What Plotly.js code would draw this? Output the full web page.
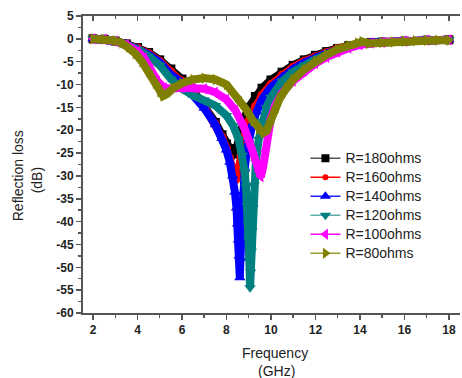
<!DOCTYPE html>
<html>
<head>
<meta charset="utf-8">
<script src="https://cdn.plot.ly/plotly-3.0.1.min.js"></script>
<style>
  html, body { margin: 0; padding: 0; background: #fff; }
  #chart { width: 462px; height: 378px; }
</style>
</head>
<body>
<div id="chart"></div>
<script>
// ---- Data ----
var seriesNames = ['R=180ohms', 'R=160ohms', 'R=140ohms', 'R=120ohms', 'R=100ohms', 'R=80ohms'];

var freq180 = [2,2.5,3,3.5,4,4.5,5,5.5,6,6.5,7,7.5,7.8,8.0,8.15,8.3,8.45,8.6,8.8,9.0,9.3,9.6,10,10.5,11,11.5,12,12.5,13,13.5,14,14.5,15,16,17,18];
var rl180   = [0,-0.1,-0.5,-1.1,-1.9,-3.0,-4.6,-6.6,-8.8,-11.3,-14.5,-18.3,-21.0,-23.0,-24.3,-25.2,-24.0,-21.0,-17.5,-15.0,-12.6,-10.8,-9.0,-7.3,-5.8,-4.6,-3.6,-2.8,-2.1,-1.5,-1.0,-0.8,-0.7,-0.5,-0.3,-0.2];

var freq160 = [2,2.5,3,3.5,4,4.5,5,5.5,6,6.5,7,7.5,7.8,8.0,8.15,8.3,8.42,8.52,8.65,8.8,9.0,9.3,9.6,10,10.5,11,11.5,12,12.5,13,13.5,14,14.5,15,16,17,18];
var rl160   = [0,-0.1,-0.5,-1.2,-2.0,-3.2,-4.9,-7.2,-9.2,-11.8,-14.8,-18.6,-21.6,-24.0,-26.2,-28.8,-30.8,-29.5,-25.5,-21.5,-18.0,-14.8,-12.3,-10.0,-7.9,-6.2,-4.9,-3.9,-3.0,-2.2,-1.6,-1.0,-0.8,-0.7,-0.5,-0.3,-0.2];

var freq140 = [2,2.5,3,3.5,4,4.5,5,5.5,6,6.5,7,7.5,7.8,8.0,8.15,8.28,8.38,8.45,8.5,8.54,8.57,8.6,8.63,8.66,8.7,8.75,8.82,8.9,9.0,9.15,9.35,9.6,10,10.5,11,11.5,12,12.5,13,13.5,14,14.5,15,16,17,18];
var rl140   = [0,-0.1,-0.5,-1.2,-2.1,-3.4,-5.1,-7.8,-9.6,-12.3,-15.2,-18.8,-21.8,-24.3,-27.0,-30.0,-33.5,-37.0,-40.5,-44.0,-47.5,-52.3,-48.0,-43.5,-38.5,-33.5,-28.5,-25.0,-22.0,-19.0,-16.0,-13.2,-10.6,-8.3,-6.6,-5.2,-4.1,-3.2,-2.4,-1.7,-1.1,-0.8,-0.7,-0.5,-0.3,-0.2];

var freq120 = [2,2.5,3,3.5,4,4.5,5,5.5,6,6.5,7,7.5,8,8.3,8.55,8.72,8.82,8.88,8.93,8.97,9.0,9.03,9.06,9.09,9.12,9.15,9.19,9.24,9.32,9.45,9.6,9.8,10,10.5,11,11.5,12,12.5,13,13.5,14,14.5,15,16,17,18];
var rl120   = [0,-0.1,-0.5,-1.3,-2.3,-3.8,-5.8,-8.8,-10.9,-12.4,-13.4,-14.6,-16.8,-19.0,-22.0,-25.5,-29.0,-32.5,-36.5,-40.5,-44.0,-48.5,-54.5,-51.0,-46.5,-42.0,-37.0,-32.0,-27.0,-22.0,-18.0,-15.0,-12.8,-9.3,-7.2,-5.7,-4.5,-3.5,-2.6,-1.8,-1.2,-0.9,-0.7,-0.5,-0.3,-0.2];

var freq100 = [2,2.5,3,3.5,4,4.3,4.6,4.9,5.2,5.5,6,6.5,7,7.5,8,8.4,8.8,9.1,9.3,9.45,9.55,9.65,9.75,9.85,10,10.2,10.5,11,11.5,12,12.5,13,13.5,14,14.5,15,16,17,18];
var rl100   = [0,-0.1,-0.5,-1.3,-2.7,-4.2,-6.6,-9.3,-10.7,-10.9,-10.7,-10.6,-10.9,-11.7,-13.3,-15.6,-19.5,-23.5,-26.5,-29.0,-30.2,-28.0,-24.5,-21.0,-17.3,-14.5,-11.8,-9.2,-7.1,-5.4,-4.0,-2.9,-2.0,-1.3,-0.9,-0.8,-0.5,-0.3,-0.2];

var freq80  = [2,2.5,3,3.3,3.6,3.9,4.2,4.5,4.8,5.0,5.15,5.35,5.6,6,6.5,7,7.5,8,8.5,8.9,9.2,9.45,9.65,9.8,9.95,10.15,10.4,10.7,11,11.5,12,12.5,13,13.5,13.9,14.1,14.4,15,15.5,16,16.5,17,17.5,18];
var rl80    = [0,-0.1,-0.4,-0.9,-1.8,-3.2,-5.0,-7.2,-9.7,-11.6,-12.5,-12.0,-10.8,-9.7,-8.9,-8.6,-8.9,-10.0,-12.8,-15.5,-18.0,-19.8,-20.6,-20.2,-18.5,-16.0,-13.0,-10.8,-8.9,-6.7,-4.9,-3.5,-2.3,-1.5,-0.9,-0.6,-1.0,-0.8,-0.7,-0.5,-0.4,-0.3,-0.3,-0.3];

var seriesFreq = [freq180, freq160, freq140, freq120, freq100, freq80];
var seriesRL   = [rl180, rl160, rl140, rl120, rl100, rl80];

var xTickVals = [2,4,6,8,10,12,14,16,18];
var xTickText = ['2','4','6','8','10','12','14','16','18'];
var yTickVals = [5,0,-5,-10,-15,-20,-25,-30,-35,-40,-45,-50,-55,-60];
var yTickText = ['5','0','-5','-10','-15','-20','-25','-30','-35','-40','-45','-50','-55','-60'];

// ---- Styles ----
var colors  = ['#000000', '#ff0000', '#0000ff', '#008080', '#ff00ff', '#808000'];
var legendLineColors = ['#555555', '#ff0000', '#2020ff', '#5fb0aa', '#ff00ff', '#9a9a30'];
var symbols = ['square', 'circle', 'triangle-up', 'triangle-down', 'triangle-left', 'triangle-right'];
var legendMarkerSizes = [8, 6, 10, 10, 10, 10];
var dataMarkerSizes   = [9, 9, 10, 10, 10, 10];

var FONT = 'Arial, "Liberation Sans", sans-serif';
var traces = [];
for (var i = 0; i < seriesNames.length; i++) {
  traces.push({
    x: seriesFreq[i], y: seriesRL[i],
    type: 'scatter', mode: 'lines+markers',
    line: { color: colors[i], width: 8 },
    marker: { color: colors[i], symbol: symbols[i], size: dataMarkerSizes[i] },
    showlegend: false, hoverinfo: 'skip'
  });
}
// legend-only entries (one null point each, so no mark is drawn)
for (var j = 0; j < seriesNames.length; j++) {
  traces.push({
    x: [freq180[0]], y: [null],
    name: '<span style="font-size:14px">' + seriesNames[j] + '</span>',
    type: 'scatter', mode: 'lines+markers',
    line: { color: legendLineColors[j], width: 1.5 },
    marker: { color: colors[j], symbol: symbols[j], size: legendMarkerSizes[j] },
    showlegend: true, hoverinfo: 'skip'
  });
}
// anchor trace for the mirrored top axis
traces.push({ x: [freq180[0]], y: [null], xaxis: 'x2', yaxis: 'y', showlegend: false, hoverinfo: 'skip', mode: 'markers' });

var axisColor = '#555555';
var tickFont = { family: FONT, size: 12, color: '#222222', weight: 'bold' };

var layout = {
  width: 462, height: 378,
  margin: { l: 83, r: 2, t: 16, b: 65, pad: 0 },
  paper_bgcolor: '#ffffff', plot_bgcolor: '#ffffff',
  showlegend: true,
  xaxis: {
    range: [1.55, 18.5], tickvals: xTickVals, ticktext: xTickText,
    ticks: 'outside', ticklen: 5, tickwidth: 1.5, tickcolor: axisColor,
    minor: { ticks: 'outside', dtick: 1, tick0: 1, ticklen: 3, tickwidth: 1.5, tickcolor: axisColor, showgrid: false },
    showline: true, linecolor: axisColor, linewidth: 2,
    showgrid: false, zeroline: false, tickfont: tickFont
  },
  xaxis2: {
    overlaying: 'x', side: 'top', anchor: 'y', range: [1.55, 18.5],
    tickvals: xTickVals, ticks: 'inside', ticklen: 5, tickwidth: 1.5, tickcolor: axisColor,
    minor: { ticks: 'inside', dtick: 1, tick0: 1, ticklen: 3, tickwidth: 1.5, tickcolor: axisColor, showgrid: false },
    showline: true, linecolor: axisColor, linewidth: 2,
    showgrid: false, zeroline: false, showticklabels: false
  },
  yaxis: {
    range: [-60, 5], tickvals: yTickVals, ticktext: yTickText,
    ticks: 'outside', ticklen: 5, tickwidth: 1.5, tickcolor: axisColor,
    minor: { ticks: 'outside', dtick: 2.5, tick0: 0, ticklen: 3, tickwidth: 1.5, tickcolor: axisColor, showgrid: false },
    showline: true, linecolor: axisColor, linewidth: 2,
    showgrid: false, zeroline: false, tickfont: tickFont
  },
  legend: {
    x: 0.590, y: 0.570, xanchor: 'left', yanchor: 'top',
    bgcolor: 'rgba(0,0,0,0)', borderwidth: 0,
    font: { family: FONT, size: 11, color: '#222222' },
    tracegroupgap: 0
  },
  annotations: [
    { text: 'Reflection loss', xref: 'paper', yref: 'paper', x: -0.172, y: 0.461, textangle: -90,
      xanchor: 'center', yanchor: 'middle', showarrow: false, font: { family: FONT, size: 14, color: '#222222' } },
    { text: '(dB)', xref: 'paper', yref: 'paper', x: -0.121, y: 0.448, textangle: -90,
      xanchor: 'center', yanchor: 'middle', showarrow: false, font: { family: FONT, size: 14, color: '#222222' } },
    { text: 'Frequency', xref: 'paper', yref: 'paper', x: 0.5106, y: -0.1347,
      xanchor: 'center', yanchor: 'middle', showarrow: false, font: { family: FONT, size: 14, color: '#222222' } },
    { text: '(GHz)', xref: 'paper', yref: 'paper', x: 0.512, y: -0.1953,
      xanchor: 'center', yanchor: 'middle', showarrow: false, font: { family: FONT, size: 14, color: '#222222' } }
  ]
};

Plotly.newPlot('chart', traces, layout, { displayModeBar: false, staticPlot: true });
</script>
</body>
</html>
